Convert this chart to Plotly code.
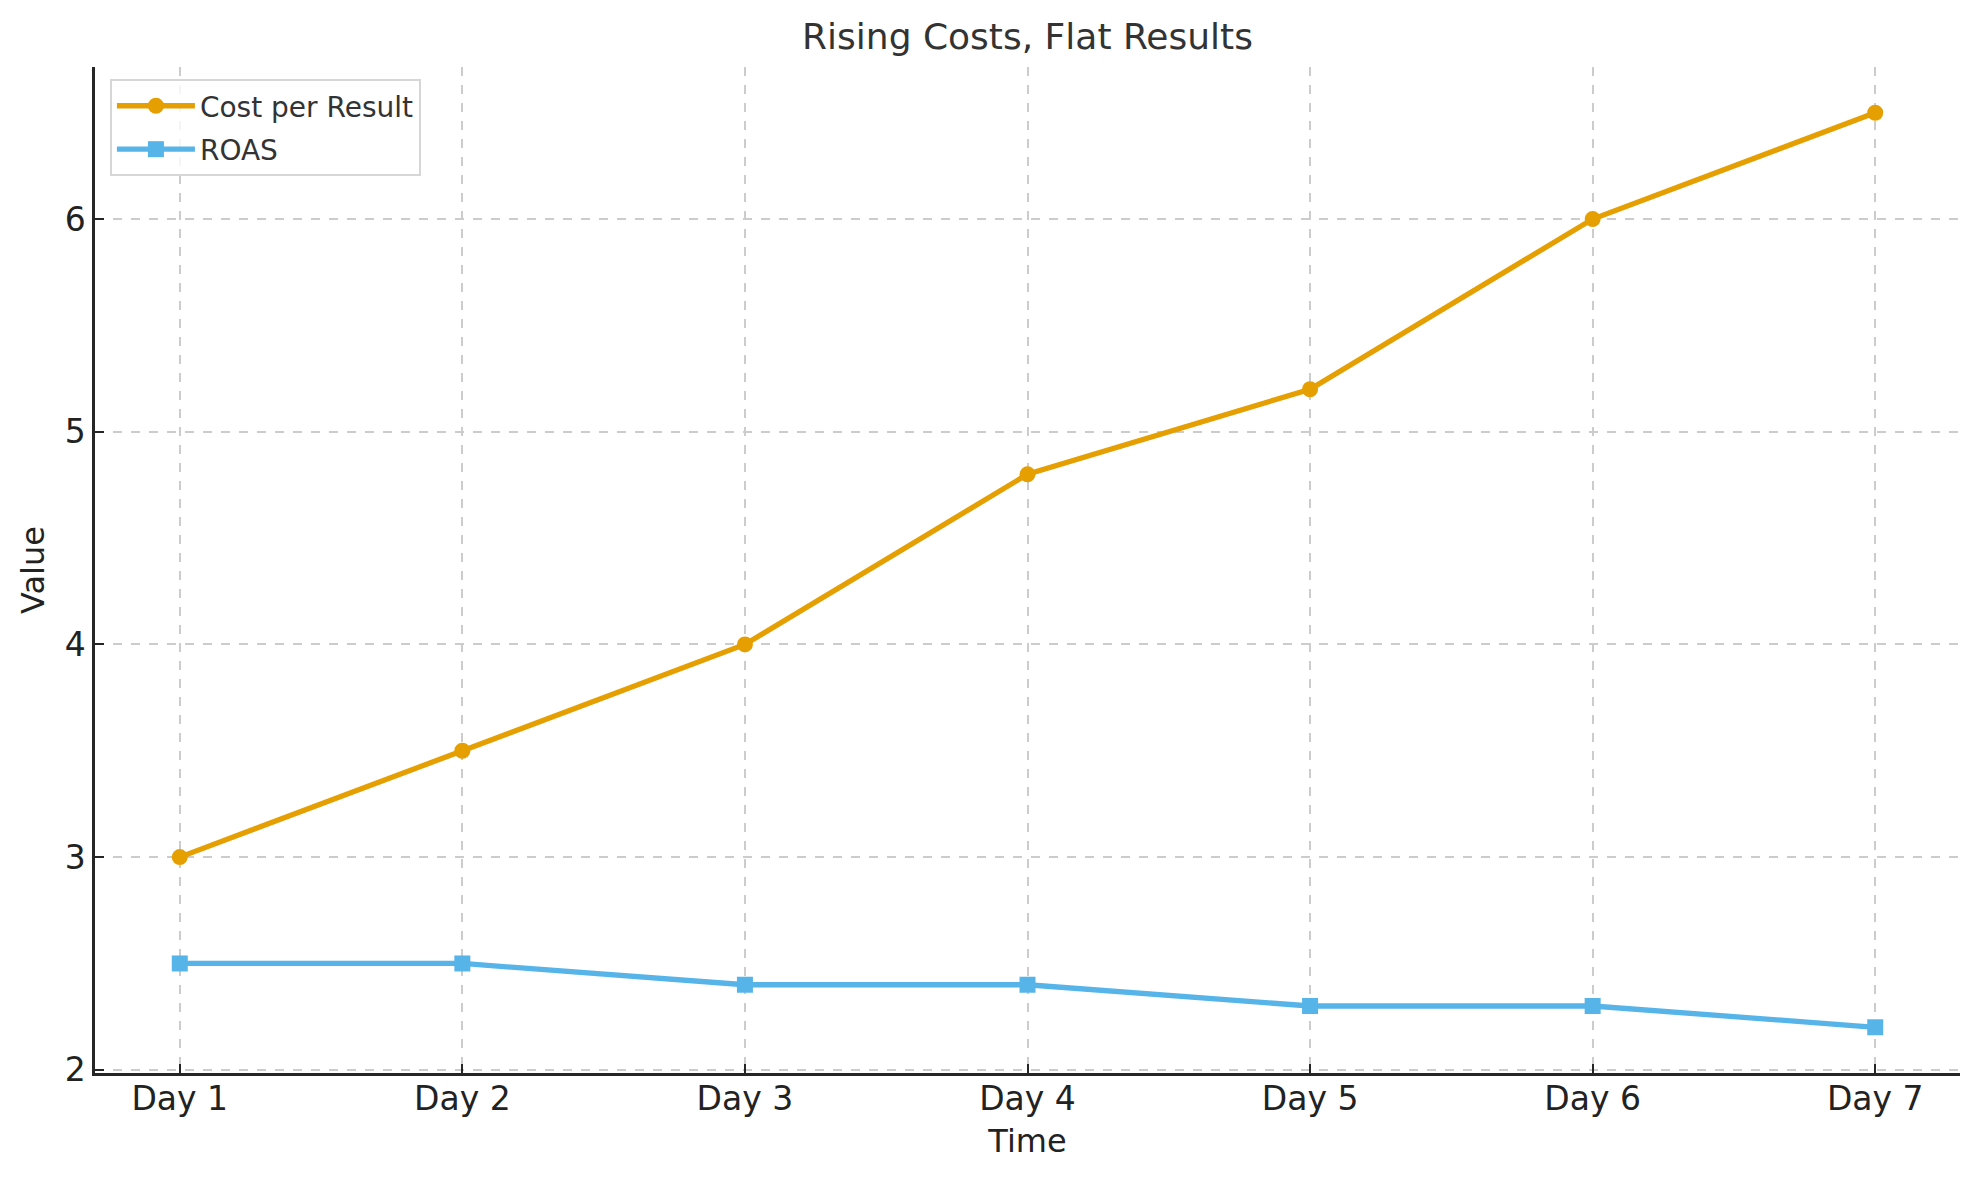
import plotly.graph_objects as go

days = ["Day 1", "Day 2", "Day 3", "Day 4", "Day 5", "Day 6", "Day 7"]
cost_per_result = [3.0, 3.5, 4.0, 4.8, 5.2, 6.0, 6.5]
roas = [2.5, 2.5, 2.4, 2.4, 2.3, 2.3, 2.2]
y_ticks = [2, 3, 4, 5, 6]

ORANGE = "#E69F00"
BLUE = "#56B4E9"
FONT = "DejaVu Sans"

fig = go.Figure()
fig.add_trace(go.Scatter(
    x=days, y=cost_per_result, name="Cost per Result", mode="lines+markers",
    legendgroup="a",
    line=dict(color=ORANGE, width=5.3), marker=dict(symbol="circle", size=16, color=ORANGE),
))
fig.add_trace(go.Scatter(
    x=days, y=roas, name="ROAS", mode="lines+markers",
    legendgroup="b",
    line=dict(color=BLUE, width=5.3), marker=dict(symbol="square", size=16, color=BLUE),
))

axis_common = dict(
    showline=True, linecolor="#262626", linewidth=2.5,
    ticks="inside", ticklen=9, tickwidth=2, tickcolor="#262626",
    showgrid=True, gridcolor="#cccccc", gridwidth=1.5, griddash="dash",
    zeroline=False, mirror=False,
    tickfont=dict(family=FONT, size=33, color="#222222"),
)

# page body has an 8px margin; figure is sized/offset to compensate
fig.update_layout(
    width=1971, height=1172,
    paper_bgcolor="white", plot_bgcolor="white",
    margin=dict(l=87, r=19, t=59, b=107),
    font=dict(family=FONT, color="#333333"),
    title=dict(text="Rising Costs, Flat Results", x=0.5, xanchor="center",
               xref="paper", yref="container", y=1 - 28 / 1172, yanchor="middle",
               font=dict(family=FONT, size=36, color="#333333")),
    xaxis=dict(**axis_common, type="category", categoryorder="array", categoryarray=days,
               range=[-0.3, 6.3], ticklabelstandoff=-5,
               title=dict(text="Time", font=dict(family=FONT, size=32, color="#222222"), standoff=13)),
    yaxis=dict(**axis_common, range=[1.985, 6.715], tickvals=y_ticks,
               ticktext=[str(v) for v in y_ticks],
               title=dict(text="Value", font=dict(family=FONT, size=32, color="#222222"), standoff=11)),
    legend=dict(x=0.008, y=0.988, xanchor="left", yanchor="top",
                bgcolor="rgba(255,255,255,0.8)", bordercolor="#d6d6d6", borderwidth=2,
                font=dict(family=FONT, size=28, color="#333333"), itemwidth=78,
                traceorder="grouped", tracegroupgap=4),
    showlegend=True,
)

fig.write_html("out.html")
